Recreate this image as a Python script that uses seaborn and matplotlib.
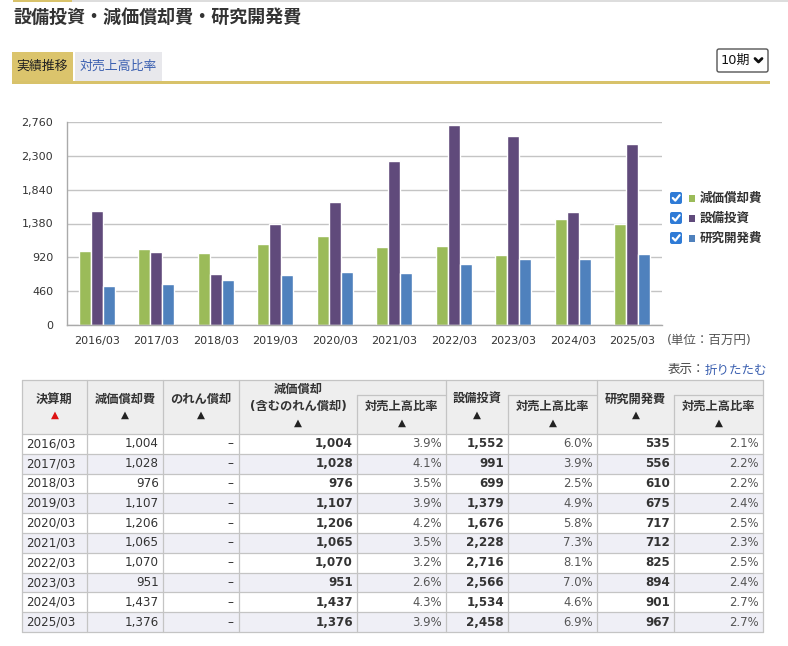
import numpy as np
import pandas as pd
import seaborn as sns

from matplotlib import pyplot as plt
from matplotlib.patches import Rectangle, FancyBboxPatch
from matplotlib.ticker import FuncFormatter

# ---- data -------------------------------------------------------------
periods      = ['2016/03', '2017/03', '2018/03', '2019/03', '2020/03',
                '2021/03', '2022/03', '2023/03', '2024/03', '2025/03']
depreciation = [1004, 1028, 976, 1107, 1206, 1065, 1070, 951, 1437, 1376]
goodwill     = ['–'] * 10
depr_total   = [1004, 1028, 976, 1107, 1206, 1065, 1070, 951, 1437, 1376]
depr_ratio   = [3.9, 4.1, 3.5, 3.9, 4.2, 3.5, 3.2, 2.6, 4.3, 3.9]
capex        = [1552, 991, 699, 1379, 1676, 2228, 2716, 2566, 1534, 2458]
capex_ratio  = [6.0, 3.9, 2.5, 4.9, 5.8, 7.3, 8.1, 7.0, 4.6, 6.9]
rnd          = [535, 556, 610, 675, 717, 712, 825, 894, 901, 967]
rnd_ratio    = [2.1, 2.2, 2.2, 2.4, 2.5, 2.3, 2.5, 2.4, 2.7, 2.7]

series_names = ['減価償却費', '設備投資', '研究開発費']
bar_colors   = ['#9bbb59', '#604a7b', '#4f81bd']
y_ticks      = [0, 460, 920, 1380, 1840, 2300, 2760]

# ---- style ------------------------------------------------------------
sns.set_style('white')
plt.rcParams['font.family'] = ['DejaVu Sans', 'Noto Sans CJK JP']

W, H = 788, 646
fig  = plt.figure(figsize=(W / 100, H / 100), dpi=100)
fig.patch.set_facecolor('white')

page = fig.add_axes([0, 0, 1, 1])
page.set_xlim(0, W); page.set_ylim(H, 0); page.axis('off')

GRID = '#c4c4c4'
TXT  = '#333333'

def box(x0, y0, x1, y1, fc, ec='none', lw=0.8, z=1):
    page.add_patch(Rectangle((x0, y0), x1 - x0, y1 - y0, facecolor=fc,
                             edgecolor=ec, linewidth=lw, zorder=z))

def hline(y, x0, x1, color=GRID, lw=0.9):
    page.plot([x0, x1], [y, y], color=color, lw=lw, zorder=3)

def vline(x, y0, y1, color=GRID, lw=0.9):
    page.plot([x, x], [y0, y1], color=color, lw=lw, zorder=3)

def txt(x, y, s, size=8.6, color=TXT, ha='left', weight='normal'):
    page.text(x, y, s, fontsize=size, color=color, ha=ha, va='center',
              fontweight=weight, zorder=4)

# ---- page header ------------------------------------------------------
box(13, 0, 72, 2, '#d8c26a')
box(72, 0, W, 2, '#dddddd')
txt(13, 18, '設備投資・減価償却費・研究開発費', size=13, weight='bold')

box(12, 52, 73, 81, '#dbc46c')
txt(42.5, 66, '実績推移', size=9.3, color='#222222', ha='center')
box(75, 52, 162, 81, '#e8e8ec')
txt(118.5, 66, '対売上高比率', size=9.3, color='#3a5fb0', ha='center')
box(12, 81, 770, 84, '#d8c26a')

page.add_patch(FancyBboxPatch((717, 49), 51, 23, boxstyle='round,pad=0,rounding_size=2',
                              facecolor='white', edgecolor='#555555', lw=1, zorder=2))
txt(721, 60.5, '10期', size=9.3, color='#111111')
page.plot([755, 758.5, 762], [58.5, 62, 58.5], color='#111111', lw=2, zorder=4)

# ---- bar chart --------------------------------------------------------
ax = fig.add_axes([67 / W, 1 - 325 / H, (662 - 67) / W, (325 - 122) / H])
ax.set_facecolor('none')

df = pd.DataFrame({'period': periods * 3,
                   'series': np.repeat(series_names, len(periods)),
                   'value':  depreciation + capex + rnd})
sns.barplot(data=df, x='period', y='value', hue='series', hue_order=series_names,
            palette=bar_colors, width=0.6, gap=0, saturation=1, ax=ax, legend=False)

ax.set_xlim(-0.5, len(periods) - 0.5)
ax.set_ylim(0, y_ticks[-1])
ax.set_yticks(y_ticks)
ax.yaxis.set_major_formatter(FuncFormatter(lambda v, p: f'{v:,.0f}'))
ax.yaxis.grid(True, color=GRID, lw=1)
ax.set_axisbelow(True)
ax.set_xlabel(''); ax.set_ylabel('')
for s in ['top', 'right']:
    ax.spines[s].set_visible(False)
for s in ['left', 'bottom']:
    ax.spines[s].set_color('#aaaaaa')
    ax.spines[s].set_linewidth(1)
ax.set_xticks(np.arange(-0.5, len(periods), 1), minor=True)
ax.tick_params(axis='x', which='major', length=0, pad=8, labelsize=8, labelcolor=TXT)
ax.tick_params(axis='x', which='minor', length=5, color='#aaaaaa', width=1)
ax.tick_params(axis='y', length=4, color='#aaaaaa', width=1, pad=6,
               labelsize=8, labelcolor=TXT)

# legend with checkboxes
for i, (name, col) in enumerate(zip(series_names, bar_colors)):
    yc = 198 + 20 * i
    page.add_patch(FancyBboxPatch((670, yc - 6), 12, 12,
                                  boxstyle='round,pad=0,rounding_size=2',
                                  facecolor='#2f7bd6', edgecolor='none', zorder=3))
    page.plot([672.8, 675.3, 679.6], [yc, yc + 2.6, yc - 2.8], color='white',
              lw=1.6, zorder=4, solid_capstyle='round')
    box(689, yc - 3, 695.5, yc + 3.5, col, z=3)
    txt(700, yc, name, size=9, weight='bold')

txt(667, 340, '(単位：百万円)', size=9, color='#555555')
txt(705, 370, '表示：', size=9, color='#444444', ha='right')
txt(705, 370, '折りたたむ', size=9, color='#3a5fb0')

# ---- table ------------------------------------------------------------
xs     = [22, 87, 163, 239, 357, 446, 508, 597, 674, 763]
top    = 380
sub    = 395
hbot   = 434
row_h  = 19.8
bottom = hbot + row_h * len(periods)

box(xs[0], top, xs[-1], hbot, '#eeeeee')
for i in range(len(periods)):
    y0 = hbot + i * row_h
    box(xs[0], y0, xs[-1], y0 + row_h, '#efeff6' if i % 2 else 'white')
    hline(y0, xs[0], xs[-1])
hline(top, xs[0], xs[-1])
hline(bottom, xs[0], xs[-1])
for k in (4, 6, 8):
    hline(sub, xs[k], xs[k + 1])
for k, x in enumerate(xs):
    vline(x, sub if k in (4, 6, 8) else top, bottom)

# header cells
TRI = '▲'
for k, label in [(0, '決算期'), (1, '減価償却費'), (2, 'のれん償却'),
                 (5, '設備投資'), (7, '研究開発費')]:
    cx = (xs[k] + xs[k + 1]) / 2
    txt(cx, 399, label, size=8.8, ha='center', weight='bold')
    txt(cx, 415, TRI, size=7.5, ha='center', color='#dd1111' if k == 0 else '#222222')
cx = (xs[3] + xs[4]) / 2
txt(cx, 389.5, '減価償却', size=8.8, ha='center', weight='bold')
txt(cx, 406.5, '(含むのれん償却)', size=8.8, ha='center', weight='bold')
txt(cx, 423, TRI, size=7.5, ha='center', color='#222222')
for k in (4, 6, 8):
    cx = (xs[k] + xs[k + 1]) / 2
    txt(cx, 406, '対売上高比率', size=8.8, ha='center', weight='bold')
    txt(cx, 423, TRI, size=7.5, ha='center', color='#222222')

# body cells
for i, p in enumerate(periods):
    yc = hbot + i * row_h + row_h / 2
    txt(xs[0] + 4, yc, p, size=8.6)
    txt(xs[2] - 4, yc, f'{depreciation[i]:,}', size=8.6, ha='right')
    txt(xs[3] - 6, yc, goodwill[i], size=8.6, ha='right')
    txt(xs[4] - 4, yc, f'{depr_total[i]:,}', size=8.6, ha='right', weight='bold')
    txt(xs[5] - 4, yc, f'{depr_ratio[i]:.1f}%', size=8.4, ha='right', color='#555555')
    txt(xs[6] - 4, yc, f'{capex[i]:,}', size=8.6, ha='right', weight='bold')
    txt(xs[7] - 4, yc, f'{capex_ratio[i]:.1f}%', size=8.4, ha='right', color='#555555')
    txt(xs[8] - 4, yc, f'{rnd[i]:,}', size=8.6, ha='right', weight='bold')
    txt(xs[9] - 4, yc, f'{rnd_ratio[i]:.1f}%', size=8.4, ha='right', color='#555555')

fig.savefig('out.png', dpi=100, facecolor='white')
